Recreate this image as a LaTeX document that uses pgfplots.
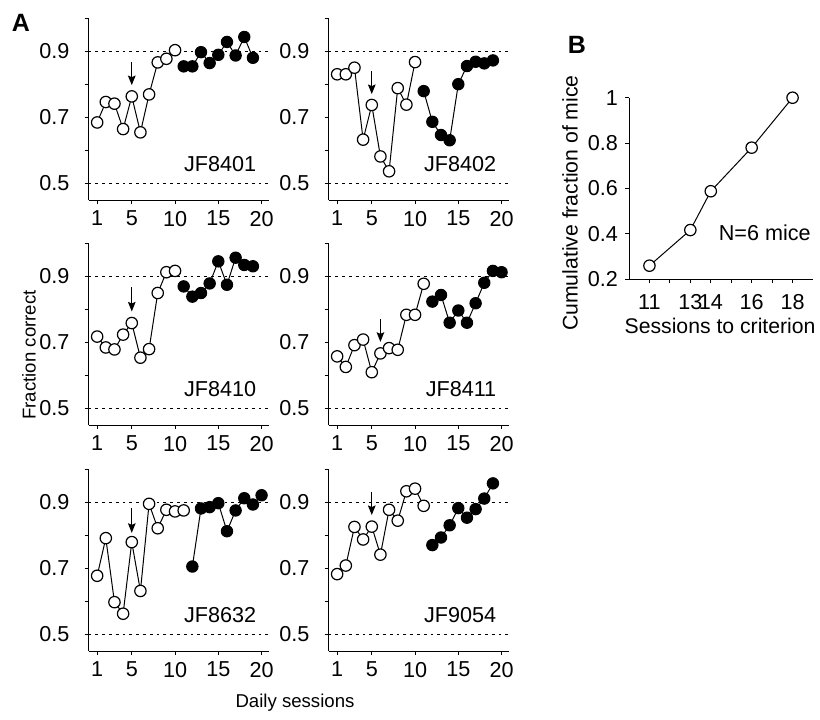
\documentclass[border=0pt]{standalone}
\usepackage{fontspec}
\setmainfont{Liberation Sans}
\usepackage{pgfplots}
\pgfplotsset{compat=1.18}
\usetikzlibrary{arrows.meta}

\pgfplotsset{
  panel/.style={scale only axis, width=90pt, height=90.75pt,
    anchor=south west,
    xmin=0, xmax=20.8, ymin=0.45, ymax=1.0,
    axis x line*=bottom, axis y line*=left,
    xtick={1,5,10,15,20}, ytick={0.5,0.7,0.9}, minor ytick={0.6,0.8,1.0},
    tick align=outside, major tick length=2pt, minor tick length=2pt,
    tick style={black, line width=0.5pt},
    axis line style={line width=0.5pt},
    tick label style={font=\fontsize{10.8}{12}\selectfont},
    yticklabel style={xshift=-4pt},
    /pgf/number format/assume math mode=true,
    clip=false},
  openpts/.style={black, line width=0.5pt, mark=*, mark size=2.85pt,
    mark options={fill=white, line width=0.6pt}},
  filledpts/.style={black, line width=0.5pt, mark=*, mark size=2.85pt,
    mark options={fill=black}},
  refline/.style={black, line width=0.6pt, dash pattern=on 1.4pt off 2pt, forget plot},
}
\newcommand{\refs}{%
  \addplot[refline] coordinates {(0,0.9) (20.8,0.9)};
  \addplot[refline] coordinates {(0,0.5) (20.8,0.5)};}
\newcommand{\mouse}[1]{\node[anchor=base east, font=\fontsize{10.8}{12}\selectfont] at (axis cs:20.2,0.535) {#1};}
\tikzset{stim/.style={-{Stealth[length=4.8pt,width=3.8pt,inset=0.8pt]}, line width=0.6pt}}

\begin{document}
\begin{tikzpicture}
\path[use as bounding box] (0,0) rectangle (410pt,-359.5pt);

% row 1
\begin{axis}[panel, at={(44.25pt,-100pt)}]
\refs
\addplot[openpts] table {
x y
1 0.685
2 0.747
3 0.742
4 0.665
5 0.764
6 0.655
7 0.770
8 0.867
9 0.878
10 0.904
};
\addplot[filledpts] table {
x y
11 0.855
12 0.855
13 0.898
14 0.865
15 0.890
16 0.929
17 0.888
18 0.944
19 0.881
};
\draw[stim] (axis cs:5,0.869) -- (axis cs:5,0.798);
\mouse{JF8401}
\end{axis}

\begin{axis}[panel, at={(164.25pt,-100pt)}]
\refs
\addplot[openpts] table {
x y
1 0.831
2 0.831
3 0.851
4 0.633
5 0.738
6 0.582
7 0.537
8 0.789
9 0.739
10 0.868
};
\addplot[filledpts] table {
x y
11 0.780
12 0.687
13 0.647
14 0.631
15 0.801
16 0.856
17 0.869
18 0.864
19 0.873
};
\draw[stim] (axis cs:5,0.840) -- (axis cs:5,0.771);
\mouse{JF8402}
\end{axis}

% row 2
\begin{axis}[panel, at={(44.25pt,-212.5pt)}]
\refs
\addplot[openpts] table {
x y
1 0.718
2 0.685
3 0.679
4 0.724
5 0.759
6 0.654
7 0.680
8 0.850
9 0.913
10 0.917
};
\addplot[filledpts] table {
x y
11 0.870
12 0.839
13 0.850
14 0.879
15 0.946
16 0.875
17 0.957
18 0.935
19 0.931
};
\draw[stim] (axis cs:5,0.868) -- (axis cs:5,0.794);
\mouse{JF8410}
\end{axis}

\begin{axis}[panel, at={(164.25pt,-212.5pt)}]
\refs
\addplot[openpts] table {
x y
1 0.658
2 0.626
3 0.692
4 0.709
5 0.610
6 0.667
7 0.683
8 0.678
9 0.784
10 0.784
11 0.878
};
\addplot[filledpts] table {
x y
12 0.824
13 0.844
14 0.760
15 0.797
16 0.760
17 0.819
18 0.881
19 0.917
20 0.913
};
\draw[stim] (axis cs:6,0.772) -- (axis cs:6,0.702);
\mouse{JF8411}
\end{axis}

% row 3
\begin{axis}[panel, at={(44.25pt,-325.5pt)}]
\refs
\addplot[openpts] table {
x y
1 0.678
2 0.792
3 0.598
4 0.563
5 0.780
6 0.632
7 0.896
8 0.822
9 0.878
10 0.873
11 0.876
};
\addplot[filledpts] table {
x y
12 0.706
13 0.882
14 0.886
15 0.898
16 0.813
17 0.876
18 0.913
19 0.894
20 0.922
};
\draw[stim] (axis cs:5,0.882) -- (axis cs:5,0.808);
\mouse{JF8632}
\end{axis}

\begin{axis}[panel, at={(164.25pt,-325.5pt)}]
\refs
\addplot[openpts] table {
x y
1 0.683
2 0.709
3 0.826
4 0.788
5 0.827
6 0.742
7 0.878
8 0.845
9 0.934
10 0.942
11 0.890
};
\addplot[filledpts] table {
x y
12 0.771
13 0.794
14 0.831
15 0.883
16 0.854
17 0.880
18 0.912
19 0.958
};
\draw[stim] (axis cs:5,0.932) -- (axis cs:5,0.862);
\mouse{JF9054}
\end{axis}

% panel B
\begin{axis}[scale only axis, width=92pt, height=90.8pt,
  at={(314.5pt,-139.65pt)}, anchor=south west,
  xmin=10, xmax=19, ymin=0.2, ymax=1,
  axis x line*=bottom, axis y line*=left,
  xtick={11,12,13,14,15,16,17,18}, xticklabels={11,,13,14,,16,,18},
  ytick={0.2,0.4,0.6,0.8,1},
  tick align=outside, major tick length=2pt,
  tick style={black, line width=0.5pt},
  axis line style={line width=0.5pt},
  tick label style={font=\fontsize{10.8}{12}\selectfont},
  xticklabel style={yshift=-2pt},
  /pgf/number format/assume math mode=true,
  label style={font=\fontsize{10.6}{12}\selectfont},
  xlabel={Sessions to criterion},
  ylabel={Cumulative fraction of mice},
  xlabel style={at={(axis description cs:0.495,-0.257)}, anchor=center},
  ylabel style={at={(axis description cs:-0.32,0.42)}, anchor=center},
  clip=false]
\addplot[openpts] table {
x y
11 0.260
13 0.417
14 0.588
16 0.780
18 1.000
};
\node[anchor=base west, font=\fontsize{10.8}{12}\selectfont] at (axis cs:14.05,0.37) {N=6 mice};
\end{axis}

\node[font=\fontsize{9.3}{11}\selectfont, rotate=90] at (14.5pt,-177.5pt) {Fraction correct};
\node[font=\fontsize{9.3}{11}\selectfont] at (147.5pt,-351.5pt) {Daily sessions};
\node[font=\bfseries\fontsize{12.5}{14}\selectfont] at (10.5pt,-11.5pt) {A};
\node[font=\bfseries\fontsize{12.5}{14}\selectfont] at (288.5pt,-22.5pt) {B};
\end{tikzpicture}
\end{document}
